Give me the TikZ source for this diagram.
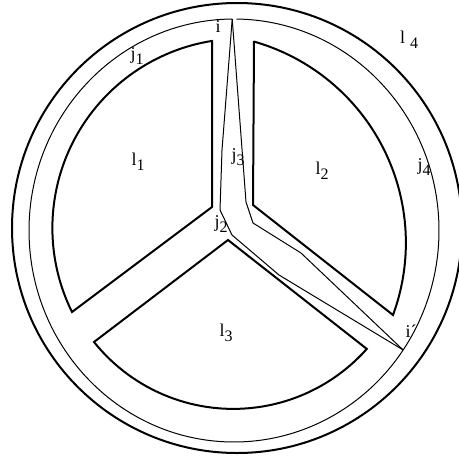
\documentclass[tikz,border=0pt]{standalone}
\usepackage{fontspec}
\setmainfont{Liberation Serif}
\usepackage{tikz}
\usetikzlibrary{calc}
\newcommand{\lowidx}[1]{\raisebox{-0.3em}{\fontsize{8}{8}\selectfont #1}}
\tikzset{
  region edge/.style={draw=black,line width=1pt,line join=miter},
  cut line/.style={draw=black,line width=0.5pt},
  region label/.style={inner sep=0pt,font=\fontsize{9}{10}\selectfont}
}

\begin{document}
\begin{tikzpicture}[x=0.5pt,y=0.5pt]
\useasboundingbox (0,0) rectangle (459,456);
\coordinate (c) at (234,225.5);
\coordinate (i) at ($(c)+(90.5:205 and 211.5)$);
\coordinate (ip) at ($(c)+(-34.4:205 and 211.5)$);
% outer boundary
\draw[region edge] (237,228) circle[radius=225];
% the three regions l1, l2, l3
\draw[region edge] (212,415) -- (212,249) -- (72,144) arc[start angle=206.3,end angle=99.1,radius=189.5] -- cycle;
\draw[region edge] (254,415) -- (253,251) -- (393,141) arc[start angle=-20.2,end angle=74.1,radius=209.2] -- cycle;
\draw[region edge] (228,216) -- (94,114) arc[start angle=218.7,end angle=318.4,radius=178.5] -- cycle;
% curves j1..j4 from i to i'
\draw[cut line] (i) arc[start angle=90.5,end angle=325.6,x radius=205,y radius=211.5];
\draw[cut line] ($(c)+(89.3:205 and 211.5)$) arc[start angle=89.3,end angle=-34.4,x radius=205,y radius=211.5];
\draw[cut line] (i) -- (222,306) -- (220,246) -- (232,221) -- (279,181) -- (ip);
\draw[cut line] (i) -- (246,254) -- (253,233) -- (301,203) -- (ip);
% labels
\node[region label] (lab i) at (218,429) {i};
\node[region label] (lab ip) at (411,125) {i´};
\node[region label] (lab j1) at (137,400) {j\lowidx{1}};
\node[region label] (lab j2) at (221,232) {j\lowidx{2}};
\node[region label] (lab j3) at (238,299) {j\lowidx{3}};
\node[region label] (lab j4) at (424,289) {j\lowidx{4}};
\node[region label] (lab l1) at (138,294) {l\lowidx{1}};
\node[region label] (lab l2) at (322,285) {l\lowidx{2}};
\node[region label] (lab l3) at (226,123) {l\lowidx{3}};
\node[region label] (lab l4) at (409,416) {l\hspace{2.5pt}\lowidx{4}};
\end{tikzpicture}
\end{document}
